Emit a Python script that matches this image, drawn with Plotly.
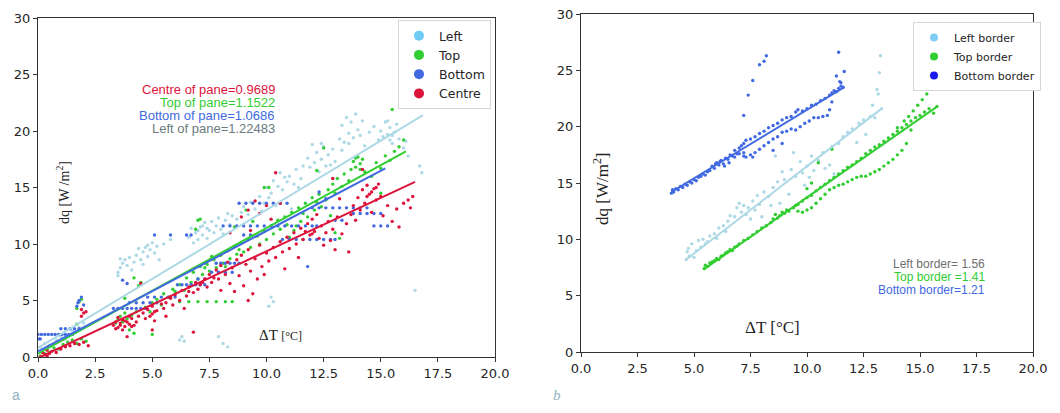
import plotly.graph_objects as go

# ---------------- Panel a data (pane) ----------------
LEFT_PTS = [(0.1,0.9),(0.3,1.2),(0.5,1.0),(0.8,1.5),(1.0,1.8),(1.2,1.6),(1.5,2.3),(1.8,2.6),(2.0,3.0),
    (6.2,1.5),(6.4,1.4),(6.3,1.8),(7.9,1.8),(8.1,1.2),(8.3,0.9),(10.1,4.5),(10.3,4.9),(10.2,5.3),(16.5,5.9),(16.8,16.3),(16.7,16.9),
    (3.5,7.2),(3.5,7.5),(3.6,7.9),(3.7,8.3),(3.8,8.6),(3.9,8.1),(4.0,8.8),(4.1,7.7),(4.2,8.4),(4.3,9.0),(4.5,8.6),(4.6,9.3),(4.7,9.7),
    (4.8,8.9),(4.9,9.5),(5.0,10.1),(5.1,9.2),(5.2,9.8),(5.5,10.0),(5.8,10.4),(5.3,8.6),(4.4,9.6),(4.6,8.2),(4.8,9.9),(3.6,8.7),
    (6.6,10.6),(6.8,10.1),(6.9,11.0),(7.0,10.4),(7.1,11.5),(7.2,10.8),(7.3,11.9),(7.4,10.5),(7.5,11.2),(7.6,12.0),(7.7,11.0),(7.8,11.6),
    (7.9,12.3),(8.0,11.3),(8.2,12.1),(8.4,11.7),(8.5,12.5),(8.7,12.2),(8.9,12.8),(9.0,13.3),(9.2,12.6),(9.3,13.7),(9.5,13.1),
    (7.0,11.2),(7.2,11.6),(7.4,11.4),(6.7,11.4),(8.1,10.9),(8.3,12.7),
    (9.7,14.2),(9.9,13.6),(10.0,15.0),(10.2,14.5),(10.3,15.6),(10.5,15.1),(10.6,16.3),(10.7,14.8),(10.9,15.5),(11.0,16.0),(11.2,15.3),
    (11.3,16.6),(11.5,15.8),(11.6,16.9),(9.8,12.9),(10.4,13.4),(11.1,13.1),(10.1,14.1),(10.8,15.9),(11.4,15.0),
    (11.8,17.6),(11.9,16.8),(12.0,18.8),(12.1,17.2),(12.2,18.1),(12.4,17.5),(12.5,18.6),(12.6,16.9),(12.7,17.9),(12.9,18.4),(13.0,17.3),(12.4,18.9),
    (12.3,16.4),(12.8,17.0),
    (13.2,19.3),(13.3,20.5),(13.4,19.0),(13.5,21.2),(13.6,19.8),(13.7,20.8),(13.8,19.4),(13.9,21.5),(14.0,20.1),(14.1,19.6),(14.2,20.9),
    (14.3,18.7),(14.5,19.9),(14.7,20.4),(14.9,19.2),(15.0,20.0),(15.1,19.5),(15.2,20.8),(15.3,19.7),(15.4,20.3),(15.5,18.9),(15.6,19.9),
    (15.7,20.6),(15.8,19.3),(16.0,18.5),(16.1,19.1),(16.2,17.8),(13.3,18.3),(13.6,18.9),(15.3,20.9),(15.5,19.6),(15.4,19.2)]

TOP_PTS = [(0.1,0.1),(0.3,0.3),(0.5,0.4),(0.7,0.8),(0.9,0.7),(1.1,1.1),(1.3,1.3),(1.5,1.5),(1.7,1.2),(1.9,1.6),(2.1,1.4),
    (1.7,4.3),(1.8,4.9),(1.9,5.1),(1.7,2.9),
    (3.4,3.0),(3.5,3.3),(3.6,3.6),(3.7,3.1),(3.8,3.9),(3.9,3.4),(4.0,2.4),(4.1,3.7),(4.2,2.1),(4.3,4.0),(4.4,6.3),(4.5,6.6),(4.2,7.0),(3.8,5.2),
    (4.7,4.4),(4.9,4.0),(5.0,4.8),(5.2,5.1),(5.4,4.6),(5.5,5.6),(5.7,5.3),(5.9,6.0),(5.0,2.0),(5.8,5.3),
    (6.0,5.8),(6.2,6.4),(6.4,5.9),(6.5,7.0),(6.7,6.6),(6.8,7.5),(7.0,6.9),(7.1,8.0),(7.2,7.3),(7.4,8.2),(7.5,7.6),(7.0,12.1),(7.1,12.2),(6.9,11.3),
    (6.2,4.9),(6.6,4.9),(7.0,4.9),(7.4,4.9),(7.8,4.9),(8.2,4.9),(8.5,4.9),
    (7.7,8.6),(7.8,7.9),(8.0,9.0),(8.1,8.3),(8.3,9.4),(8.4,8.7),(8.6,9.8),(8.7,9.1),(8.9,10.1),(9.0,9.3),(9.2,10.4),(9.3,9.7),(9.4,12.0),
    (9.1,13.0),(8.6,11.5),(7.6,8.9),(8.2,8.0),(8.8,9.5),(7.3,7.9),
    (9.6,10.7),(9.7,10.0),(9.9,11.1),(10.0,10.4),(10.2,11.6),(10.3,10.9),(10.5,12.1),(10.6,11.3),(10.8,12.4),(10.9,11.7),(11.0,10.6),(10.1,15.0),(9.9,15.0),
    (11.1,12.8),(11.2,11.2),(11.4,13.2),(11.5,12.0),(11.7,13.6),(11.8,12.4),(12.0,14.1),(12.1,13.0),(12.3,14.4),(12.4,13.3),(12.6,13.9),
    (12.8,12.5),(13.0,11.0),(13.2,10.5),(11.3,11.6),(11.6,12.7),(12.2,13.7),
    (12.7,14.8),(12.9,15.3),(13.0,14.5),(13.1,15.8),(13.3,15.1),(13.4,16.2),(13.6,15.6),(13.7,16.6),(12.5,18.5),(12.2,16.5),
    (13.8,17.3),(13.9,16.8),(14.0,17.7),(14.1,17.1),(14.2,17.5),(14.3,16.4),(13.9,17.6),(14.1,16.6),
    (14.6,16.0),(14.8,17.2),(15.0,16.7),(15.2,17.8),(15.4,17.4),(15.6,18.2),(15.8,18.6),(16.0,19.2),(15.5,21.9),(15.0,14.5)]

BOTTOM_PTS = [(0.0,2.0),(0.15,2.0),(0.3,2.0),(0.45,2.0),(0.6,2.0),(0.75,2.0),(0.9,2.0),(1.05,2.0),(1.2,2.0),(1.35,2.0),(1.5,2.0),
    (1.0,2.5),(1.2,2.5),(1.4,2.5),(1.6,2.5),(1.8,2.5),(0.05,1.6),(0.1,1.6),
    (1.7,4.5),(1.8,5.0),(1.9,5.3),(1.75,4.8),(2.0,4.6),(3.7,6.8),(3.9,6.5),
    (3.3,4.3),(3.5,4.3),(3.7,4.3),(3.9,4.3),(4.1,4.3),(4.3,4.3),(4.5,4.3),(4.7,4.3),
    (4.0,4.8),(4.3,4.8),(4.6,4.8),(4.9,4.8),(5.2,4.8),
    (4.8,5.3),(5.1,5.3),(5.4,5.3),(5.7,5.3),(6.0,5.3),
    (5.1,10.8),(5.8,10.8),(6.5,10.8),(6.7,10.8),
    (6.1,6.4),(6.3,6.4),(6.5,6.4),(6.7,6.4),(6.9,6.4),(7.1,6.4),(7.3,6.4),(7.0,6.9),(7.3,6.9),
    (7.6,7.5),(7.9,7.5),(8.2,7.5),(8.5,7.5),
    (7.8,8.3),(8.0,8.3),(8.2,8.3),(8.4,8.3),(8.6,8.3),(8.8,8.3),
    (8.1,11.6),(8.4,11.6),(8.7,11.6),(9.0,11.6),(9.3,11.6),(9.6,11.6),(9.9,11.6),(10.2,11.6),(10.5,11.6),(10.8,11.6),(11.1,11.6),
    (11.4,11.6),(11.7,11.6),(12.0,11.6),(12.2,11.6),
    (8.8,13.6),(9.1,13.6),(9.4,13.6),(9.7,13.6),(10.0,13.6),(10.3,13.6),(10.6,13.6),(10.9,13.6),
    (9.0,10.8),(9.3,10.8),
    (10.7,10.4),(11.0,10.4),(11.3,10.4),(11.6,10.4),(11.9,10.4),(12.2,10.4),(12.5,10.4),(12.8,10.4),(13.0,10.4),
    (12.0,13.2),(12.3,13.2),(12.6,13.2),(12.9,13.2),(13.2,13.2),(13.5,13.2),(13.8,13.2),(14.1,13.2),(14.4,13.2),
    (13.8,12.7),(14.1,12.7),(14.4,12.7),(14.7,12.7),(15.0,12.7),(14.7,11.6),(15.0,11.6),(15.3,11.6),
    (13.0,12.1),(13.3,12.1),(11.8,8.0),(12.3,14.6),(12.6,14.0)]

CENTRE_PTS = [(0.1,0.0),(0.2,0.4),(0.3,0.2),(0.4,0.6),(0.5,0.3),(0.6,0.5),(0.8,0.4),(1.0,0.7),(1.2,0.9),(1.4,1.0),(1.6,1.2),
    (1.8,1.1),(2.0,1.3),(2.2,1.0),(0.4,0.1),(1.9,4.2),(2.0,3.9),(2.1,4.0),(1.9,3.6),
    (3.3,2.8),(3.4,3.1),(3.5,2.6),(3.6,3.0),(3.7,3.3),(3.8,2.7),(3.9,3.1),(4.0,2.9),(4.1,3.4),(4.2,2.8),(3.5,3.5),(3.9,1.8),(4.3,3.1),
    (3.7,2.4),(4.0,3.6),(3.6,2.8),(3.8,3.2),(4.1,2.7),(3.4,2.5),
    (4.4,3.6),(4.6,3.9),(4.7,3.4),(4.8,4.2),(5.0,3.8),(5.0,4.5),(5.1,3.2),(5.2,4.1),(5.4,4.7),(5.5,4.3),(5.0,2.4),(4.5,6.5),(4.9,3.6),(5.1,4.0),
    (5.6,4.8),(5.8,5.2),(5.9,4.6),(6.0,5.5),(6.2,5.0),(6.3,5.9),(6.5,5.4),(6.6,6.2),(6.8,5.7),(6.9,6.6),(7.0,6.0),(6.8,2.2),(6.4,4.3),(5.6,3.6),
    (7.1,6.4),(7.3,6.9),(7.4,6.2),(7.5,7.3),(7.6,6.6),(7.8,7.7),(7.9,6.9),(8.0,8.1),(8.2,7.3),(8.3,8.4),(8.4,6.5),(8.5,7.9),(8.6,5.8),(8.0,5.9),
    (7.2,6.6),(7.7,7.0),(6.6,5.8),
    (8.7,8.6),(8.8,7.2),(8.9,9.0),(9.0,6.3),(9.1,8.2),(9.2,9.5),(9.3,7.6),(9.4,5.6),(9.5,8.7),(9.6,6.9),(9.7,9.9),(9.8,8.0),(9.9,7.3),
    (10.0,9.2),(10.1,8.5),(9.2,5.0),
    (8.9,12.4),(9.2,13.0),(9.5,13.8),(9.7,12.7),(10.0,13.4),(10.2,12.2),(10.4,16.3),(8.4,11.0),(9.3,11.2),(10.6,13.6),
    (10.3,9.7),(10.4,8.8),(10.6,10.2),(10.7,9.3),(10.9,10.6),(11.0,9.6),(11.2,11.0),(11.3,10.0),(11.5,11.4),(11.6,10.4),(11.8,11.8),
    (11.9,10.8),(12.0,12.2),(11.4,8.8),(10.8,7.8),(11.7,11.1),(12.0,10.9),
    (12.1,11.1),(12.2,12.6),(12.3,10.5),(12.4,11.6),(12.5,9.9),(12.6,11.0),(12.7,12.0),(12.8,10.3),(12.9,11.3),(13.0,9.5),(13.1,12.4),
    (13.3,10.9),(13.5,11.8),(13.6,9.3),(13.2,14.0),(12.9,15.8),
    (13.7,12.6),(13.8,13.4),(13.9,12.1),(14.0,14.1),(14.1,13.0),(14.2,14.8),(14.3,13.6),(14.4,15.2),(14.5,14.4),(14.6,12.8),(14.7,14.9),
    (14.8,13.9),(14.9,15.3),(15.0,14.2),(15.1,12.5),(15.3,13.4),(15.5,12.0),(15.7,13.1),(16.0,13.6),(16.2,13.9),(16.4,14.2),(16.3,13.2),
    (15.8,11.5),(14.2,16.6),(14.6,14.6),(14.8,15.0),(14.4,14.2)]

# fitted lines (end points)
LEFT_FIT_X, LEFT_FIT_Y = [0.0, 16.85], [0.8, 21.4]
TOP_FIT_X, TOP_FIT_Y = [0.0, 16.1], [0.3, 18.2]
BOTTOM_FIT_X, BOTTOM_FIT_Y = [0.0, 15.2], [0.5, 16.7]
CENTRE_FIT_X, CENTRE_FIT_Y = [0.1, 16.5], [0.0, 15.5]

PANE_LABELS = ["Centre of pane=0.9689", "Top of pane=1.1522", "Bottom of pane=1.0686", "Left of pane=1.22483"]

# ---------------- Panel b data (borders) ----------------
BB_PTS = [(4.0,14.1),(4.05,14.4),(4.1,14.2),(4.2,14.5),(4.3,14.4),(4.4,14.7),(4.5,14.6),(4.6,14.9),(4.7,14.8),(4.8,15.1),(4.9,15.0),
    (5.0,15.3),(5.1,15.2),(5.2,15.5),(5.3,15.6),(5.4,15.8),(5.5,15.7),(5.6,16.0),(5.7,16.1),(5.8,16.5),(5.9,16.3),(6.0,16.8),(6.1,16.6),
    (6.2,17.0),(6.3,16.7),(6.4,17.2),(6.5,17.1),(6.6,17.5),(6.7,17.4),(6.8,17.9),(6.9,17.6),(7.0,18.1),(7.1,18.3),(7.2,18.5),(7.3,18.8),
    (7.5,18.9),(7.7,19.1),(7.9,19.4),(8.1,19.6),(8.3,19.9),(8.5,20.1),(8.7,20.3),(8.9,20.6),(9.1,20.8),(9.3,20.9),(9.5,21.3),(9.6,21.5),
    (9.8,21.4),(10.0,21.6),(10.2,21.9),(10.4,22.0),(10.6,22.3),(10.8,22.5),(11.0,22.8),(11.1,23.0),(11.2,23.2),(11.3,23.1),(11.4,23.4),
    (11.5,23.6),(11.6,23.5),(6.15,16.9),(6.35,16.5),(6.55,16.8),(5.95,16.7),
    (6.8,17.3),(7.0,17.6),(7.2,17.4),(7.3,17.3),(7.5,17.5),(7.6,17.3),(7.7,17.7),(7.9,18.0),(8.1,18.3),(8.3,18.6),(8.5,18.9),(8.7,19.1),
    (8.9,19.5),(9.1,19.6),(9.3,19.8),(9.5,19.7),(9.7,20.0),(9.9,20.3),(10.1,20.5),(10.3,20.8),(10.5,20.8),(10.7,20.9),(10.9,21.0),
    (11.0,21.5),(11.1,22.2),(7.2,17.7),
    (7.2,21.0),(7.4,22.8),(7.6,24.1),(7.9,25.5),(8.1,25.8),(8.2,26.3),(11.4,26.6),(11.65,24.9),(11.3,24.5),(11.45,24.0),(11.5,23.9),
    (8.5,17.9),(8.9,18.5)]

LB_PTS = [(4.65,8.2),(4.7,8.9),(4.75,9.2),(4.8,8.5),(4.9,9.6),(5.0,8.4),(5.1,9.0),(5.2,9.9),(5.3,9.3),(5.4,10.0),(5.5,9.6),(5.6,9.8),
    (5.7,10.3),(5.9,10.5),(6.0,10.1),(6.1,11.0),(6.3,11.2),(6.4,10.7),(6.5,11.6),(6.6,12.1),(6.8,12.0),(6.9,12.8),(7.0,13.2),(7.1,12.4),
    (7.2,13.0),(7.3,12.2),(7.4,12.8),(7.5,11.8),(7.6,13.4),(7.7,12.6),(7.8,13.9),(7.9,13.1),(8.0,12.0),(8.1,14.2),(8.3,13.8),(8.4,13.0),
    (8.5,14.6),(8.6,17.4),(8.7,15.1),(8.8,13.2),(8.9,16.0),(9.0,15.3),(9.2,14.0),(9.3,16.2),(9.4,17.7),(9.5,15.6),(9.7,16.9),(9.8,15.9),
    (9.9,14.8),(10.0,16.5),(10.1,15.5),(10.2,17.4),(10.3,16.1),(10.5,17.0),(10.7,17.7),(10.8,16.3),(11.0,16.6),(11.1,18.2),(11.2,15.8),
    (11.4,18.5),(11.6,19.1),(11.8,19.5),(12.0,19.8),(12.2,18.6),(12.3,20.3),(12.5,20.6),(12.6,19.3),(12.8,20.9),(12.9,21.9),(13.0,20.8),
    (13.1,23.3),(13.15,22.9),(13.2,24.8),(13.25,26.3),(13.3,21.6)]

TB_PTS = [(5.45,7.4),(5.5,7.7),(5.6,7.6),(5.7,7.9),(5.8,8.0),(5.9,8.1),(6.0,8.3),(6.1,8.2),(6.2,8.5),(6.3,8.6),(6.4,8.8),(6.5,8.9),
    (6.6,9.1),(6.7,9.0),(6.8,9.3),(6.9,9.4),(7.0,9.6),(7.2,9.9),(7.4,10.1),(7.6,10.4),(7.8,10.7),(8.0,11.0),(8.2,11.2),(8.4,11.5),
    (8.5,11.8),(8.6,12.2),(8.7,11.9),(8.8,12.1),(8.9,12.4),(9.0,12.3),(9.1,12.6),(9.2,12.5),(9.4,12.8),(9.5,13.0),(9.6,13.1),(9.8,13.4),
    (10.0,13.7),(10.2,13.9),(10.4,14.3),(10.6,14.6),(10.8,14.9),(11.0,15.2),(11.2,15.5),(11.4,15.8),(11.6,16.1),(11.8,16.4),(12.0,16.6),
    (12.2,16.9),(12.4,17.2),(12.6,17.6),(12.8,17.9),(13.0,18.2),(13.2,18.4),(13.4,18.7),(13.6,19.0),(13.8,19.3),(14.0,19.6),(14.2,19.9),
    (14.4,20.2),(14.6,20.5),(14.8,20.8),(15.0,21.0),(15.2,21.3),(15.4,21.6),(15.75,21.8),
    (14.0,19.9),(14.3,20.5),(14.5,20.9),(14.7,21.4),(14.9,21.9),(15.1,22.4),(15.3,22.9),(15.5,23.5),(15.6,21.2),
    (9.6,12.5),(9.8,12.4),(10.0,12.6),(10.2,12.8),(10.4,13.2),(10.6,13.6),(10.8,14.0),(11.0,14.4),(11.2,14.6),(11.4,14.8),(11.6,14.9),
    (11.8,15.1),(12.0,15.3),(12.2,15.5),(12.4,15.6),(12.6,15.6),(12.8,15.8),(13.0,16.0),(13.2,16.2),(13.4,16.5),(13.6,16.8),(13.8,17.1),
    (14.0,17.5),(14.2,17.9),(14.4,18.5),(14.6,19.7),
    (10.5,16.8),(11.1,18.0),(10.0,14.5),(10.2,15.0)]

BB_FIT_X, BB_FIT_Y = [4.0, 11.65], [14.2, 23.5]
LB_FIT_X, LB_FIT_Y = [4.65, 13.3], [8.2, 21.6]
TB_FIT_X, TB_FIT_Y = [5.45, 15.77], [7.35, 21.8]

BORDER_LABELS = ["Left border= 1.56", "Top border =1.41", "Bottom border=1.21"]

X_TICKS = [0, 2.5, 5, 7.5, 10, 12.5, 15, 17.5, 20]
Y_TICKS = [0, 5, 10, 15, 20, 25, 30]

# ---------------- styling ----------------
C_LIGHT = "#add8e6"
C_GREEN = "#32cd32"
C_ROYAL = "#4169e1"
C_RED = "#dc143c"
W, H = 1060, 413

def xs(p): return [a for a, b in p]
def ys(p): return [b for a, b in p]

fig = go.Figure()

def scat(pts, color, xa, ya):
    fig.add_trace(go.Scatter(x=xs(pts), y=ys(pts), mode="markers", xaxis=xa, yaxis=ya,
                             marker=dict(size=3.4, color=color, line=dict(width=0)), showlegend=False))

def line(xv, yv, color, xa, ya):
    fig.add_trace(go.Scatter(x=xv, y=yv, mode="lines", xaxis=xa, yaxis=ya,
                             line=dict(color=color, width=2), showlegend=False))

# panel a
scat(LEFT_PTS, C_LIGHT, "x", "y")
scat(TOP_PTS, C_GREEN, "x", "y")
scat(BOTTOM_PTS, C_ROYAL, "x", "y")
scat(CENTRE_PTS, C_RED, "x", "y")
line(LEFT_FIT_X, LEFT_FIT_Y, C_LIGHT, "x", "y")
line(TOP_FIT_X, TOP_FIT_Y, C_GREEN, "x", "y")
line(BOTTOM_FIT_X, BOTTOM_FIT_Y, C_ROYAL, "x", "y")
line(CENTRE_FIT_X, CENTRE_FIT_Y, C_RED, "x", "y")

# panel b
scat(LB_PTS, C_LIGHT, "x2", "y2")
scat(TB_PTS, C_GREEN, "x2", "y2")
scat(BB_PTS, C_ROYAL, "x2", "y2")
line(LB_FIT_X, LB_FIT_Y, C_LIGHT, "x2", "y2")
line(TB_FIT_X, TB_FIT_Y, C_GREEN, "x2", "y2")
line(BB_FIT_X, BB_FIT_Y, C_ROYAL, "x2", "y2")

# legend entries
for name, col in [("Left", "#6ecbf4"), ("Top", C_GREEN), ("Bottom", C_ROYAL), ("Centre", C_RED)]:
    fig.add_trace(go.Scatter(x=[None], y=[None], mode="markers", name=name, legend="legend",
                             marker=dict(size=10, color=col), xaxis="x", yaxis="y"))
for name, col in [("Left border", "#7fcdf5"), ("Top border", C_GREEN), ("Bottom border", "#1a1aee")]:
    fig.add_trace(go.Scatter(x=[None], y=[None], mode="markers", name=name, legend="legend2",
                             marker=dict(size=8, color=col), xaxis="x2", yaxis="y2"))

def px_x(p): return p / W
def px_y(p): return (H - p) / H

axis_common = dict(showline=True, linecolor="#333333", linewidth=1, mirror=True, ticks="outside",
                   ticklen=4, tickcolor="#333333", showgrid=False, zeroline=False, automargin=False,
                   tickfont=dict(family="DejaVu Sans", size=13, color="#262626"))

fig.update_layout(
    width=W, height=H, margin=dict(l=0, r=0, t=0, b=0, autoexpand=False),
    paper_bgcolor="white", plot_bgcolor="white",
    xaxis=dict(domain=[px_x(38), px_x(495)], range=[0, 20], tickvals=X_TICKS, tickformat=".1f", anchor="y", **axis_common),
    yaxis=dict(domain=[px_y(357), px_y(18)], range=[0, 30], tickvals=Y_TICKS, anchor="x", **axis_common),
    xaxis2=dict(domain=[px_x(581), px_x(1033)], range=[0, 20], tickvals=X_TICKS, tickformat=".1f", anchor="y2", **axis_common),
    yaxis2=dict(domain=[px_y(352), px_y(14)], range=[0, 30], tickvals=Y_TICKS, anchor="x2", **axis_common),
    legend=dict(x=px_x(398), y=px_y(20), xanchor="left", yanchor="top", bgcolor="white",
                bordercolor="#d6d6d6", borderwidth=1, font=dict(family="DejaVu Sans", size=12.5, color="#262626"),
                itemwidth=30, tracegroupgap=0),
    legend2=dict(x=px_x(913), y=px_y(22), xanchor="left", yanchor="top", bgcolor="white",
                 bordercolor="#d6d6d6", borderwidth=1, font=dict(family="DejaVu Sans", size=11, color="#262626"),
                 itemwidth=30, tracegroupgap=0),
    showlegend=True,
)

ann = []
pane_cols = [C_RED, C_GREEN, C_ROYAL, "#6b7b80"]
for i, (t, c) in enumerate(zip(PANE_LABELS, pane_cols)):
    ann.append(dict(text=t, x=px_x(277), y=px_y(89 + 13 * i), xref="paper", yref="paper", xanchor="right",
                    yanchor="middle", showarrow=False, font=dict(family="Liberation Sans", size=13, color=c)))
border_cols = ["#707070", C_GREEN, C_ROYAL]
for i, (t, c) in enumerate(zip(BORDER_LABELS, border_cols)):
    ann.append(dict(text=t, x=px_x(987), y=px_y(264 + 12.8 * i), xref="paper", yref="paper", xanchor="right",
                    yanchor="middle", showarrow=False, font=dict(family="Liberation Sans", size=12, color=c)))

serif = "Liberation Serif"
ann += [
    dict(text="dq [W /m<sup>2</sup>]", x=px_x(52), y=px_y(193), xref="paper", yref="paper", textangle=-90,
         showarrow=False, font=dict(family=serif, size=14, color="#222")),
    dict(text="ΔT <span style='font-size:12px'>[°C]</span>", x=px_x(257), y=px_y(345), xref="paper", yref="paper",
         showarrow=False, font=dict(family=serif, size=15, color="#222")),
    dict(text="dq [W/m<sup>2</sup>]", x=px_x(601), y=px_y(189), xref="paper", yref="paper", textangle=-90,
         showarrow=False, font=dict(family=serif, size=17, color="#222")),
    dict(text="ΔT [°C]", x=px_x(802), y=px_y(339), xref="paper", yref="paper",
         showarrow=False, font=dict(family=serif, size=17, color="#222")),
    dict(text="a", x=px_x(10), y=px_y(405), xref="paper", yref="paper", showarrow=False,
         font=dict(family="Liberation Sans", size=14, color="#8fb3c2")),
    dict(text="<i>b</i>", x=px_x(557), y=px_y(405), xref="paper", yref="paper", showarrow=False,
         font=dict(family=serif, size=15, color="#8fb3c2")),
]
fig.update_layout(annotations=ann)

fig.write_html("out.html")
